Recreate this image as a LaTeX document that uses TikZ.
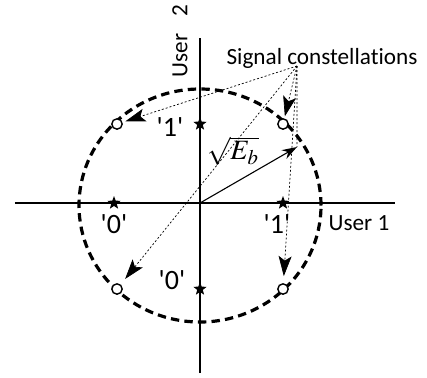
\documentclass[tikz,border=0pt]{standalone}
\usepackage{mathptmx}
\usepackage{fontspec}
\newfontfamily\labelfont{Carlito}[Ligatures={NoCommon,NoContextual}]
\usepackage{tikz}
\usetikzlibrary{shapes.geometric,arrows.meta,positioning}
\tikzset{
  axis/.style={line width=0.9pt},
  ring/.style={line width=1.6pt,dash pattern=on 4.2pt off 2.6pt},
  bitstar/.style={star,star points=5,star point ratio=2.4,fill=black,
                  inner sep=0pt,minimum size=7pt},
  sigpt/.style={circle,draw=black,fill=white,line width=0.7pt,
                inner sep=0pt,minimum size=5.2pt},
  txt/.style={font=\labelfont\fontsize{11.6}{13}\selectfont,inner sep=1pt},
  bittxt/.style={font=\labelfont\fontsize{14}{16}\selectfont,inner sep=1pt},
  vecarr/.style={-{Stealth[length=7.5pt,width=5pt]},line width=0.55pt},
  ptrline/.style={dash pattern=on 1pt off 1pt,line width=0.35pt},
  ptrarr/.style={ptrline,-{Stealth[length=10pt,width=6.5pt,inset=2.2pt]}}
}

\begin{document}
\begin{tikzpicture}[x=0.5pt,y=0.5pt]
  \useasboundingbox (-200,-174) rectangle (227,203);

  % Axes
  \coordinate (o) at (0,0);
  \draw[axis] (-185,0) -- (195,0);
  \draw[axis] (0,-170) -- (0,165);
  \node[txt] (u1) at (159,-20) {User 1};
  \node[txt,rotate=90] (u2) at (-20,162) {User\hspace{0.75em}2};

  % Energy circle
  \draw[ring] (0,-2.5) ellipse [x radius=121,y radius=116.5];

  % Single-user points
  \node[bitstar] (s0x) at (-86,0) {};
  \node[bitstar] (s1x) at (83,0) {};
  \node[bitstar] (s1y) at (0,79) {};
  \node[bitstar] (s0y) at (0,-86) {};
  \node[bittxt] (b0x) at (-86,-21) {'0'};
  \node[bittxt] (b1x) at (77,-21) {'1'};
  \node[bittxt] (b1y) at (-30,76) {'1'};
  \node[bittxt] (b0y) at (-28,-77) {'0'};

  % Signal constellations
  \node[sigpt] (c01) at (-83,79) {};
  \node[sigpt] (c11) at (83,79) {};
  \node[sigpt] (c00) at (-83,-86) {};
  \node[sigpt] (c10) at (83,-86) {};

  % Energy vector
  \coordinate (tip) at (30:112);
  \draw[vecarr] (o) -- (tip);
  \node[font=\fontsize{14}{16}\selectfont] (eb) at (33,52) {$\sqrt{E_b}$};

  % Pointers
  \node[txt] (sig) at (122,145) {Signal constellations};
  \coordinate (hub) at (97,137);
  \draw[ptrarr,shorten >=1.5pt] (hub) -- (c01);
  \draw[ptrarr,shorten >=1pt] (hub) -- (c11);
  \draw[ptrarr,shorten >=3.5pt] (hub) -- (c00);
  \draw[ptrarr,shorten >=3.5pt] (hub) -- (c10);
  \draw[ptrline] (hub) -- (tip);

\end{tikzpicture}
\end{document}
